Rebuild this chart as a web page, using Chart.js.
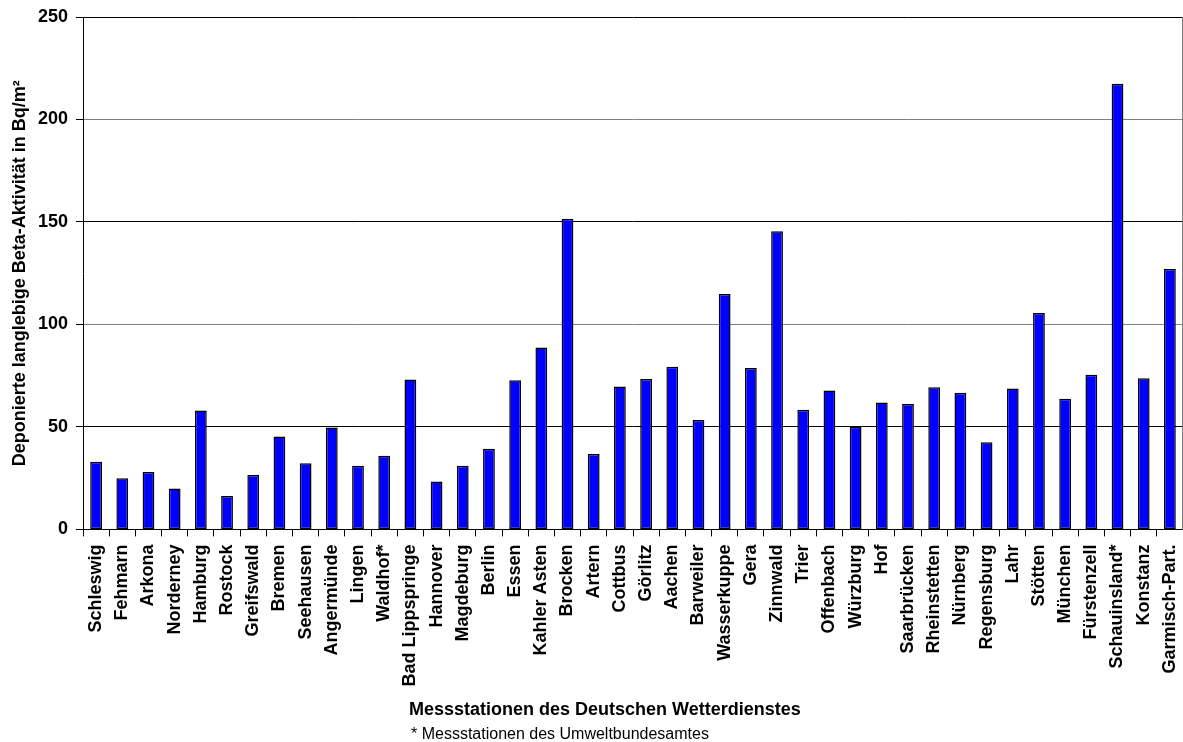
<!DOCTYPE html>
<html>
<head>
<meta charset="utf-8">
<script src="https://cdn.jsdelivr.net/npm/chart.js@4"></script>
<style>
  html, body { margin: 0; padding: 0; background: #ffffff; }
  canvas { display: block; }
</style>
</head>
<body>
<canvas id="c" width="1183" height="742"></canvas>
<script>
const stations = ["Schleswig","Fehmarn","Arkona","Norderney","Hamburg","Rostock","Greifswald","Bremen","Seehausen","Angermünde","Lingen","Waldhof*","Bad Lippspringe","Hannover","Magdeburg","Berlin","Essen","Kahler Asten","Brocken","Artern","Cottbus","Görlitz","Aachen","Barweiler","Wasserkuppe","Gera","Zinnwald","Trier","Offenbach","Würzburg","Hof","Saarbrücken","Rheinstetten","Nürnberg","Regensburg","Lahr","Stötten","München","Fürstenzell","Schauinsland*","Konstanz","Garmisch-Part."];
const betaActivity = [33,25,28,20,58,16.3,26.6,45.3,32.3,49.7,31,35.9,73.1,23.4,31,39.3,72.8,88.8,151.6,36.8,69.7,73.4,79.3,53.4,114.8,78.8,145.5,58.4,67.8,50.1,61.9,61.2,69.4,66.7,42.5,68.7,105.6,63.7,75.4,217.4,73.8,127.1];
const yTitle = "Deponierte langlebige Beta-Aktivität in Bq/m²";
const xTitle = "Messstationen des Deutschen Wetterdienstes";
const footnote = "* Messstationen des Umweltbundesamtes";

const FONT = "'Liberation Sans', Arial, sans-serif";

const extras = {
  id: 'extras',
  afterDraw(chart) {
    const ctx = chart.ctx;
    const a = chart.chartArea;
    ctx.save();
    ctx.strokeStyle = '#808080';
    ctx.lineWidth = 1;
    ctx.beginPath();
    ctx.moveTo(a.right - 0.5, a.top);
    ctx.lineTo(a.right - 0.5, a.bottom);
    ctx.stroke();
    ctx.fillStyle = '#000';
    ctx.textBaseline = 'middle';
    ctx.textAlign = 'left';
    ctx.font = "bold 18px " + FONT;
    ctx.fillText(xTitle, 409, 710);
    ctx.font = "16px " + FONT;
    ctx.fillText(footnote, 411, 735);
    ctx.restore();
  }
};

new Chart(document.getElementById('c'), {
  type: 'bar',
  data: {
    labels: stations,
    datasets: [{
      data: betaActivity,
      backgroundColor: '#0000FF',
      borderColor: '#000000',
      borderWidth: 1.5,
      borderSkipped: false,
      barPercentage: 0.45,
      categoryPercentage: 1.0
    }]
  },
  options: {
    responsive: false,
    animation: false,
    devicePixelRatio: 1,
    layout: { padding: { top: 17, right: 0, left: 0, bottom: 0 } },
    plugins: { legend: { display: false }, tooltip: { enabled: false } },
    scales: {
      x: {
        afterFit(s) { s.height = 212.6; s.paddingLeft = 0; s.paddingRight = 0; },
        grid: { display: true, drawOnChartArea: false, drawTicks: true, tickLength: 7, tickColor: '#000', offset: true },
        border: { display: true, color: '#000', width: 1 },
        ticks: {
          autoSkip: false, minRotation: 90, maxRotation: 90, padding: 8,
          color: '#000', font: { family: FONT, size: 18, weight: 'bold' }
        }
      },
      y: {
        min: 0, max: 250,
        afterFit(s) { s.width = 83; s.paddingTop = 0; s.paddingBottom = 0; },
        grid: {
          color: (c) => (c.tick && c.tick.value % 100 === 50) ? '#000000' : '#808080',
          tickColor: '#000', tickLength: 7, lineWidth: 1
        },
        border: { display: true, color: '#000', width: 1 },
        ticks: {
          stepSize: 50, padding: 8, color: '#000',
          font: { family: FONT, size: 18, weight: 'bold' }
        },
        title: {
          display: true, text: yTitle, color: '#000',
          font: { family: FONT, size: 18, weight: 'bold' },
          padding: { top: 9, bottom: 0 }
        }
      }
    }
  },
  plugins: [extras]
});
</script>
</body>
</html>
